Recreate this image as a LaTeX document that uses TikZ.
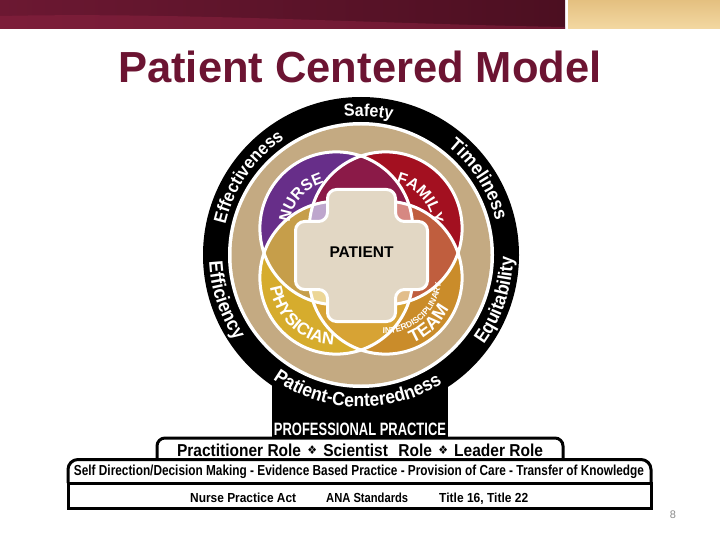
\documentclass[tikz,border=0pt]{standalone}
\usepackage{fontspec}
\usepackage{graphicx}
\setmainfont{Liberation Sans}
\newfontfamily\hvfont{Liberation Sans}
\newfontfamily\ringfont[FakeStretch=0.92]{Liberation Sans}
\newfontfamily\djfont{DejaVu Sans}
\usetikzlibrary{decorations.text}

\definecolor{hdrL}{RGB}{108,24,50}
\definecolor{hdrR}{RGB}{76,15,33}
\definecolor{hdrW}{RGB}{138,34,64}
\definecolor{goldT}{RGB}{228,192,128}
\definecolor{goldB}{RGB}{243,216,162}
\definecolor{titleC}{RGB}{108,20,50}
\definecolor{tanC}{RGB}{196,170,130}
\definecolor{nurseC}{RGB}{103,46,137}
\definecolor{familyC}{RGB}{163,16,32}
\definecolor{physC}{RGB}{214,172,45}
\definecolor{teamC}{RGB}{202,140,42}
\definecolor{nfC}{RGB}{139,26,72}
\definecolor{ftC}{RGB}{192,94,62}
\definecolor{ptC}{RGB}{215,163,52}
\definecolor{npC}{RGB}{198,158,74}
\definecolor{nTriC}{RGB}{190,166,205}
\definecolor{fTriC}{RGB}{214,136,130}
\definecolor{pTriC}{RGB}{236,214,150}
\definecolor{tTriC}{RGB}{226,190,140}
\definecolor{crossC}{RGB}{226,215,196}
\definecolor{pageC}{RGB}{140,140,140}

\newcommand\fitbox[3]{\resizebox{#1}{#2}{\hvfont\bfseries #3}}
\newcommand\orn{\hspace{0.4em}{\djfont\fontsize{7}{7}\selectfont\raisebox{0.8pt}{❖}}\hspace{0.4em}}
% #1 centre, #2 radius, #3 start angle, #4 end angle, #5 size, #6 colour, #7 text
\newcommand\arctext[7]{%
  \path[decorate,decoration={text along path,text align=center,text color=#6,
    text={|\hvfont\bfseries\fontsize{#5}{#5}\selectfont|#7}}]
    ([shift={(#3:#2)}]#1) arc[start angle=#3,end angle=#4,radius=#2];}
\newcommand\ringarc[6]{%
  \path[decorate,decoration={text along path,text align=center,text color=#5,
    text={|\ringfont\bfseries\fontsize{#4}{#4}\selectfont|#6}}]
    ([shift={(#2:#1)}]O) arc[start angle=#2,end angle=#3,radius=#1];}

\begin{document}
\begin{tikzpicture}[x=1pt,y=1pt,
  petaledge/.style={draw=white,line width=3pt},
  boxline/.style={draw=black,line width=3pt},
  boxtext/.style={inner sep=0pt,text=black}]
\useasboundingbox (0,0) rectangle (720,-540);
\fill[white] (0,0) rectangle (720,-540);

% header band
\shade[left color=hdrL,right color=hdrR] (0,0) rectangle (565,-29);
\fill[hdrW,opacity=0.55] (0,-16) .. controls (180,-12) and (380,-24) .. (565,-27) -- (565,-29) -- (0,-29) -- cycle;
\shade[top color=goldT,bottom color=goldB] (568,0) rectangle (720,-29);

% title
\node[anchor=base,inner sep=0pt,text=titleC,font=\hvfont\bfseries\fontsize{43.5}{43.5}\selectfont] (title) at (360,-83) {Patient Centered Model};

% coordinates
\coordinate (O) at (361,-255);
\coordinate (N0) at (336.3,-228.3);
\coordinate (F0) at (385.7,-228.3);
\coordinate (Ph0) at (336.3,-277.7);
\coordinate (T0) at (385.7,-277.7);
\def\pr{76.4}

% black block under the ring
\fill[black] (272,-385) rectangle (448,-437);

% ring
\fill[black] (O) circle (158);
\fill[white] (O) circle (133);
\fill[tanC] (O) circle (129.5);

% petals
\fill[nurseC] (N0) circle (\pr);
\fill[familyC] (F0) circle (\pr);
\fill[physC] (Ph0) circle (\pr);
\fill[teamC] (T0) circle (\pr);
\begin{scope}\clip (N0) circle (\pr); \fill[nfC] (F0) circle (\pr); \end{scope}
\begin{scope}\clip (F0) circle (\pr); \fill[ftC] (T0) circle (\pr); \end{scope}
\begin{scope}\clip (Ph0) circle (\pr); \fill[ptC] (T0) circle (\pr); \end{scope}
\begin{scope}\clip (N0) circle (\pr); \fill[npC] (Ph0) circle (\pr); \end{scope}
\begin{scope}\clip (N0) circle (\pr); \clip (F0) circle (\pr); \fill[nTriC] (Ph0) circle (\pr); \end{scope}
\begin{scope}\clip (N0) circle (\pr); \clip (F0) circle (\pr); \fill[fTriC] (T0) circle (\pr); \end{scope}
\begin{scope}\clip (N0) circle (\pr); \clip (Ph0) circle (\pr); \fill[pTriC] (T0) circle (\pr); \end{scope}
\begin{scope}\clip (F0) circle (\pr); \clip (Ph0) circle (\pr); \fill[tTriC] (T0) circle (\pr); \end{scope}
\draw[petaledge] (N0) circle (\pr);
\draw[petaledge] (F0) circle (\pr);
\draw[petaledge] (Ph0) circle (\pr);
\draw[petaledge] (T0) circle (\pr);

% cross
\begin{scope}[shift={(361.5,-255.5)}]
\filldraw[fill=crossC,draw=white,line width=3pt,rounded corners=9pt]
  (-34,66) -- (34,66) -- (34,34) -- (66,34) -- (66,-34) -- (34,-34) -- (34,-66)
  -- (-34,-66) -- (-34,-34) -- (-66,-34) -- (-66,34) -- (-34,34) -- cycle;
\end{scope}
\node[anchor=base,inner sep=0pt,font=\hvfont\bfseries\fontsize{15.5}{15.5}\selectfont] (patient) at (361.5,-258) {PATIENT};

% petal labels
\arctext{N0}{47}{199}{79}{16}{white}{NURSE}
\arctext{F0}{47}{101}{-19}{16}{white}{FAMILY}
\arctext{Ph0}{67}{168}{288}{17}{white}{PHYSICIAN}
\arctext{T0}{70.5}{263}{363}{18}{white}{TEAM}
\arctext{T0}{55.5}{250}{372}{8.5}{white}{INTERDISCIPLINARY}

% ring labels
\ringarc{139}{132}{42}{17.4}{white}{Safety}
\ringarc{139}{77.7}{-12.3}{19}{white}{Timeliness}
\ringarc{139}{190.3}{100.3}{17.9}{white}{Effectiveness}
\ringarc{152}{148.5}{248.5}{19.4}{white}{Efficiency}
\ringarc{152}{-68.4}{31.6}{19}{white}{Equitability}
\ringarc{152}{213.5}{323.5}{19}{white}{Patient-Centeredness}

% boxes
\draw[boxline,rounded corners=8pt] (157,-460) -- (157,-438) -- (563,-438) -- (563,-460);
\draw[boxline,rounded corners=10pt] (68,-483) -- (68,-459.5) -- (651,-459.5) -- (651,-483);
\draw[boxline] (68,-483) rectangle (651,-508);

\node[boxtext,anchor=base,text=white] (pp) at (360,-435) {\fitbox{172pt}{12.5pt}{PROFESSIONAL PRACTICE}};
\node[boxtext,anchor=base] (roles) at (360,-456) {\fitbox{366pt}{12.5pt}{Practitioner Role\orn Scientist\hspace{0.4em} Role\orn Leader Role}};
\node[boxtext,anchor=base] (skills) at (359,-475) {\fitbox{570pt}{10.5pt}{Self Direction/Decision Making - Evidence Based Practice - Provision of Care - Transfer of Knowledge}};
\node[boxtext,anchor=base west] (npa) at (190,-502) {\fitbox{106pt}{9.5pt}{Nurse Practice Act}};
\node[boxtext,anchor=base west] (ana) at (326,-502) {\fitbox{82pt}{9.5pt}{ANA Standards}};
\node[boxtext,anchor=base west] (t16) at (439,-502) {\fitbox{89pt}{9.5pt}{Title 16, Title 22}};

% page number
\node[inner sep=0pt,text=pageC,font=\hvfont\fontsize{11}{11}\selectfont] (pg) at (673,-515) {8};
\end{tikzpicture}
\end{document}
